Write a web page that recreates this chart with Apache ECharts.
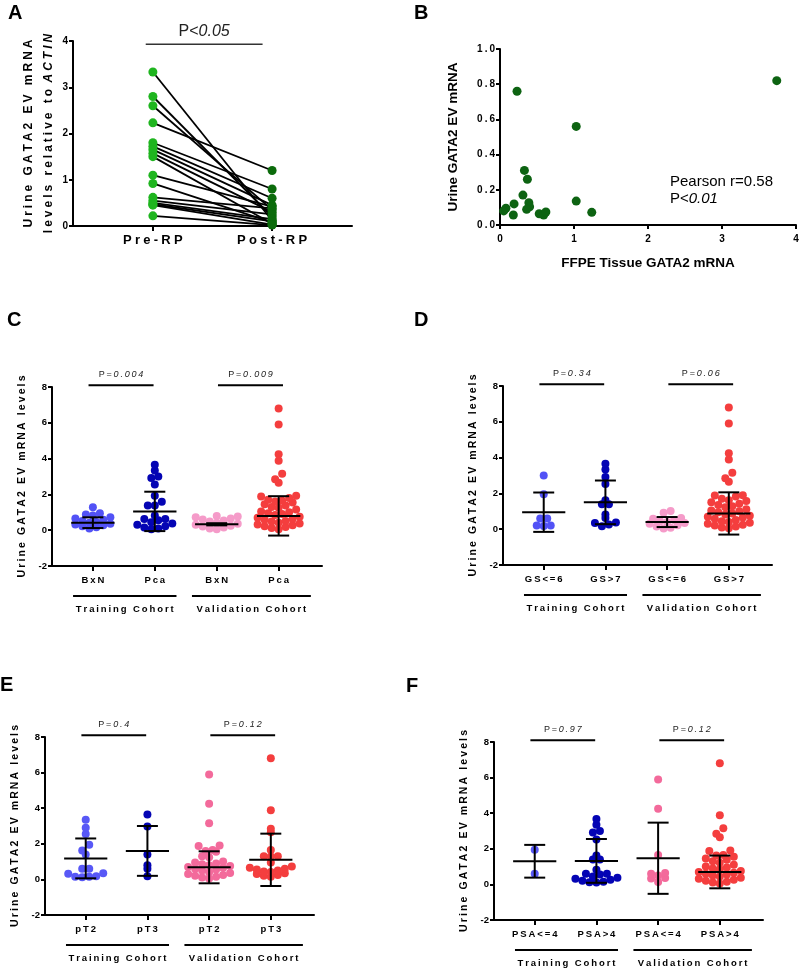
<!DOCTYPE html>
<html>
<head>
<meta charset="utf-8">
<script src="https://cdn.jsdelivr.net/npm/echarts@6/dist/echarts.min.js"></script>
<style>
  html, body { margin: 0; padding: 0; background: #fff; }
  #main { width: 800px; height: 969px; }
</style>
</head>
<body>
<div id="main"></div>
<script>
// ---- A: paired pre / post RP ----
var preRP  = [3.33, 2.80, 2.60, 2.23, 1.80, 1.72, 1.65, 1.57, 1.50, 1.10, 0.92, 0.62, 0.55, 0.50, 0.47, 0.45, 0.22];
var postRP = [0.12, 0.20, 0.35, 1.20, 0.80, 0.60, 0.45, 0.30, 0.05, 0.42, 0.08, 0.38, 0.25, 0.15, 0.10, 0.03, 0.02];
var aLabels = ['Pre-RP', 'Post-RP'];

// ---- B: tissue vs urine ----
var ffpeTissue = [3.74, 0.23, 1.03, 0.33, 0.37, 0.31, 0.19, 0.08, 0.05, 0.18, 0.39, 0.40, 0.36, 0.53, 0.59, 0.62, 1.03, 1.24];
var urineEV    = [0.82, 0.76, 0.56, 0.31, 0.26, 0.17, 0.12, 0.095, 0.08, 0.057, 0.127, 0.104, 0.089, 0.064, 0.057, 0.074, 0.136, 0.072];

// ---- C: BxN vs Pca ----
var cLabels = ['BxN', 'Pca', 'BxN', 'Pca'];
var cTrainBxN = [1.28, 0.95, 0.88, 0.82, 0.72, 0.65, 0.58, 0.52, 0.46, 0.42, 0.36, 0.32, 0.28, 0.22, 0.16, 0.1];
var cTrainPca = [3.65, 3.33, 3.0, 2.91, 2.55, 1.92, 1.59, 1.38, 1.38, 0.82, 0.63, 0.62, 0.55, 0.45, 0.38, 0.3, 0.22, 0.15, 0.1, 0.06];
var cValBxN = [0.8, 0.76, 0.72, 0.66, 0.6, 0.54, 0.48, 0.42, 0.36, 0.3, 0.25, 0.2, 0.15, 0.1, 0.05];
var cValPca = [6.8, 5.9, 4.25, 3.88, 3.15, 2.85, 2.65, 1.92, 1.88, 1.8, 1.7, 1.65, 1.6, 1.55, 1.45, 1.38, 1.3, 1.25, 1.15, 1.05, 1.0, 0.95, 0.9, 0.85, 0.75, 0.7, 0.62, 0.58, 0.52, 0.48, 0.42, 0.38, 0.32, 0.28, 0.22, 0.18, 0.12, 0.06];
var cMeans = [0.42, 1.05, 0.33, 0.8];
var cSDs = [0.3, 1.1, 0.06, 1.1];
var cP = ['0.004', '0.009'];

// ---- D: Gleason score ----
var dLabels = ['GS<=6', 'GS>7', 'GS<=6', 'GS>7'];
var dTrainLow = [3.0, 1.95, 0.6, 0.6, 0.2, 0.18, 0.2];
var dTrainHigh = [3.66, 3.34, 2.91, 2.52, 1.62, 1.4, 1.4, 0.82, 0.63, 0.37, 0.35, 0.26, 0.17];
var dValLow = [1.02, 0.92, 0.62, 0.58, 0.52, 0.45, 0.4, 0.35, 0.3, 0.22, 0.15, 0.08, 0.04];
var dValHigh = [6.8, 5.9, 4.25, 3.9, 3.15, 2.85, 2.65, 1.9, 1.88, 1.82, 1.7, 1.62, 1.58, 1.5, 1.42, 1.35, 1.28, 1.22, 1.12, 1.05, 1.0, 0.95, 0.88, 0.82, 0.75, 0.7, 0.65, 0.58, 0.52, 0.45, 0.4, 0.36, 0.3, 0.25, 0.2, 0.15, 0.1, 0.05];
var dMeans = [0.95, 1.5, 0.4, 0.88];
var dSDs = [1.1, 1.22, 0.28, 1.18];
var dP = ['0.34', '0.06'];

// ---- E: pathological stage ----
var eLabels = ['pT2', 'pT3', 'pT2', 'pT3'];
var eTrainT2 = [3.35, 2.9, 2.55, 1.95, 1.62, 1.4, 0.6, 0.6, 0.35, 0.32, 0.18, 0.15, 0.12, 0.15];
var eTrainT3 = [3.65, 2.97, 1.4, 0.8, 0.6, 0.18];
var eValT2 = [5.9, 4.25, 3.15, 1.9, 1.88, 1.65, 1.6, 1.55, 1.3, 1.25, 1.0, 0.95, 0.9, 0.85, 0.8, 0.75, 0.7, 0.65, 0.6, 0.55, 0.5, 0.4, 0.36, 0.3, 0.25, 0.2, 0.15, 0.1, 0.05];
var eValT3 = [6.8, 3.88, 2.85, 2.65, 1.65, 1.3, 1.3, 1.28, 0.95, 0.72, 0.65, 0.6, 0.55, 0.5, 0.45, 0.42, 0.35, 0.3, 0.25, 0.2, 0.15];
var eMeans = [1.18, 1.6, 0.68, 1.1];
var eSDs = [1.12, 1.4, 0.9, 1.47];
var eP = ['0.4', '0.12'];

// ---- F: PSA ----
var fLabels = ['PSA<=4', 'PSA>4', 'PSA<=4', 'PSA>4'];
var fTrainLow = [1.95, 0.6];
var fTrainHigh = [3.67, 3.35, 3.0, 2.92, 2.52, 1.62, 1.4, 1.4, 0.82, 0.6, 0.6, 0.55, 0.45, 0.38, 0.32, 0.26, 0.2, 0.15, 0.12, 0.1];
var fValLow = [5.9, 4.25, 1.65, 0.64, 0.6, 0.5, 0.36, 0.33, 0.13];
var fValHigh = [6.8, 3.88, 3.15, 2.85, 2.65, 1.9, 1.88, 1.65, 1.62, 1.55, 1.45, 1.38, 1.3, 1.22, 1.1, 1.0, 0.95, 0.9, 0.85, 0.75, 0.7, 0.65, 0.6, 0.55, 0.5, 0.45, 0.38, 0.32, 0.26, 0.2, 0.15, 0.1, 0.05];
var fMeans = [1.3, 1.32, 1.47, 0.7];
var fSDs = [0.92, 1.23, 2.0, 0.92];
var fP = ['0.97', '0.12'];

var cohortNames = ['Training Cohort', 'Validation Cohort'];

// ---- style ----
var FONT = "'Liberation Sans', Arial, Helvetica, sans-serif";
var TS = '\u2009';  // thin space, used as letter spacing
var WS = '\u2005';  // wider letter spacing for panel A
var colorsCD = ['#5252f6', '#0404b4', '#f59bc9', '#f43e3e'];
var colorsEF = ['#5858f6', '#0404b4', '#f36a9b', '#f43e3e'];

var grids = [
  { left: 73, top: 41, width: 279, height: 185 },   // A
  { left: 500, top: 49, width: 296, height: 176 },  // B
  { left: 52, top: 387, width: 270, height: 179 },  // C
  { left: 503, top: 386, width: 269, height: 179 }, // D
  { left: 45, top: 737, width: 269, height: 178 },  // E
  { left: 494, top: 742, width: 269, height: 178 }  // F
];
var XMIN = 0.34, XMAX = 4.7, YMIN = -2, YMAX = 8;

function spaced(s, sep) {
  return s.split('').join(sep || TS);
}

// Prism-like dot plot: values binned in rows, each row spread sideways,
// lowest value of a row in the middle
function swarm(vals, cx, kx) {
  var binH = 0.4, gap = 7;
  var bins = {};
  vals.forEach(function (v) {
    var b = Math.floor(v / binH);
    (bins[b] = bins[b] || []).push(v);
  });
  var out = [];
  Object.keys(bins).forEach(function (k) {
    var row = bins[k].slice().sort(function (a, b) { return a - b; });
    var n = row.length;
    row.forEach(function (v, j) {
      var slot;
      if (n % 2) slot = j === 0 ? 0 : (j % 2 ? -1 : 1) * Math.ceil(j / 2);
      else slot = (j % 2 ? 1 : -1) * (Math.floor(j / 2) + 0.5);
      out.push([cx + slot * gap / kx, v]);
    });
  });
  return out;
}

var axisLineStyle = { color: '#000', width: 2 };
var tickLabel = { color: '#000', fontWeight: 'bold', fontFamily: FONT };

function dotXAxis(gi, names) {
  return {
    type: 'value', gridIndex: gi, min: XMIN, max: XMAX,
    splitLine: { show: false },
    axisLine: { show: true, onZero: false, lineStyle: axisLineStyle },
    axisTick: { show: true, customValues: [1, 2, 3, 4], length: 5, lineStyle: axisLineStyle },
    axisLabel: Object.assign({
      customValues: [1, 2, 3, 4], fontSize: 9.5, margin: 9,
      formatter: function (v) { return spaced(names[Math.round(v) - 1]); }
    }, tickLabel)
  };
}

function dotYAxis(gi) {
  return {
    type: 'value', gridIndex: gi, min: YMIN, max: YMAX, interval: 2,
    splitLine: { show: false },
    axisLine: { show: true, lineStyle: axisLineStyle },
    axisTick: { show: true, length: 4, lineStyle: axisLineStyle },
    axisLabel: Object.assign({ fontSize: 9.5, margin: 5 }, tickLabel),
    name: spaced('Urine GATA2 EV mRNA levels'),
    nameLocation: 'middle', nameGap: 24,
    nameTextStyle: { fontSize: 10.5, fontWeight: 'bold', color: '#000', fontFamily: FONT }
  };
}

function meanSdSeries(gi, means, sds) {
  return {
    type: 'custom', xAxisIndex: gi, yAxisIndex: gi, clip: false, z: 5, silent: true,
    data: means.map(function (m, i) { return [i + 1, m, sds[i]]; }),
    renderItem: function (params, api) {
      var x = api.value(0), m = api.value(1), s = api.value(2);
      var c = api.coord([x, m]), t = api.coord([x, m + s]), b = api.coord([x, m - s]);
      var hw = api.size([0.35, 0])[0], cw = api.size([0.17, 0])[0];
      var st = { stroke: '#000', lineWidth: 2 };
      return { type: 'group', children: [
        { type: 'line', shape: { x1: c[0] - hw, y1: c[1], x2: c[0] + hw, y2: c[1] }, style: st },
        { type: 'line', shape: { x1: t[0], y1: t[1], x2: b[0], y2: b[1] }, style: st },
        { type: 'line', shape: { x1: t[0] - cw, y1: t[1], x2: t[0] + cw, y2: t[1] }, style: st },
        { type: 'line', shape: { x1: b[0] - cw, y1: b[1], x2: b[0] + cw, y2: b[1] }, style: st }
      ] };
    }
  };
}

// significance bar with a P value above it
function sigSeries(gi, segs, labels, o) {
  return {
    type: 'custom', xAxisIndex: gi, yAxisIndex: gi, clip: false, z: 6, silent: true,
    data: segs,
    renderItem: function (params, api) {
      var d = segs[params.dataIndex];
      var a = api.coord([d[0], d[2]]), b = api.coord([d[1], d[2]]);
      return { type: 'group', children: [
        { type: 'line', shape: { x1: a[0], y1: a[1], x2: b[0], y2: b[1] },
          style: { stroke: o.lineColor, lineWidth: o.lw } },
        { type: 'text', x: (a[0] + b[0]) / 2, y: a[1] - o.gap,
          style: {
            text: labels[params.dataIndex], fontSize: o.fs, fontFamily: FONT, fill: o.fill,
            align: 'center', verticalAlign: 'bottom',
            rich: { i: { fontStyle: 'italic', fontSize: o.fs, fontFamily: FONT, fill: o.fill } }
          } }
      ] };
    }
  };
}

// cohort brackets under the category labels
function cohortSeries(gi, segs) {
  return {
    type: 'custom', xAxisIndex: gi, yAxisIndex: gi, clip: false, z: 6, silent: true,
    data: segs,
    renderItem: function (params, api) {
      var d = segs[params.dataIndex];
      var a = api.coord([d[0], YMIN]), b = api.coord([d[1], YMIN]);
      return { type: 'group', children: [
        { type: 'line', shape: { x1: a[0], y1: a[1] + 30, x2: b[0], y2: b[1] + 30 },
          style: { stroke: '#000', lineWidth: 2 } },
        { type: 'text', x: (a[0] + b[0]) / 2, y: a[1] + 43,
          style: { text: spaced(cohortNames[params.dataIndex]), fontSize: 9.5, fontWeight: 'bold',
            fontFamily: FONT, fill: '#000', align: 'center', verticalAlign: 'middle' } }
      ] };
    }
  };
}

var dotPanels = [
  { gi: 2, labels: cLabels, groups: [cTrainBxN, cTrainPca, cValBxN, cValPca], means: cMeans, sds: cSDs, p: cP, colors: colorsCD },
  { gi: 3, labels: dLabels, groups: [dTrainLow, dTrainHigh, dValLow, dValHigh], means: dMeans, sds: dSDs, p: dP, colors: colorsCD },
  { gi: 4, labels: eLabels, groups: [eTrainT2, eTrainT3, eValT2, eValT3], means: eMeans, sds: eSDs, p: eP, colors: colorsEF },
  { gi: 5, labels: fLabels, groups: [fTrainLow, fTrainHigh, fValLow, fValHigh], means: fMeans, sds: fSDs, p: fP, colors: colorsEF }
];

var xAxes = [
  {
    type: 'value', gridIndex: 0, min: 0.33, max: 2.67,
    splitLine: { show: false },
    axisLine: { show: true, onZero: false, lineStyle: axisLineStyle },
    axisTick: { show: true, customValues: [1, 2], length: 5, lineStyle: axisLineStyle },
    axisLabel: Object.assign({
      customValues: [1, 2], fontSize: 13, margin: 8,
      formatter: function (v) { return spaced(aLabels[Math.round(v) - 1], WS); }
    }, tickLabel)
  },
  {
    type: 'value', gridIndex: 1, min: 0, max: 4, interval: 1,
    splitLine: { show: false },
    axisLine: { show: true, onZero: false, lineStyle: axisLineStyle },
    axisTick: { show: true, length: 4, lineStyle: axisLineStyle },
    axisLabel: Object.assign({ fontSize: 10, margin: 9 }, tickLabel),
    name: 'FFPE Tissue GATA2 mRNA', nameLocation: 'middle', nameGap: 31,
    nameTextStyle: { fontSize: 13.5, fontWeight: 'bold', color: '#000', fontFamily: FONT }
  }
];
var yAxes = [
  {
    type: 'value', gridIndex: 0, min: 0, max: 4, interval: 1,
    splitLine: { show: false },
    axisLine: { show: true, lineStyle: axisLineStyle },
    axisTick: { show: true, length: 4, lineStyle: axisLineStyle },
    axisLabel: Object.assign({ fontSize: 10, margin: 5 }, tickLabel),
    name: spaced('Urine GATA2 EV mRNA', WS) + '\n' + spaced('levels relative to ', WS) + '{i|' + spaced('ACTIN', WS) + '}',
    nameLocation: 'middle', nameGap: 13,
    nameTextStyle: {
      fontSize: 12, fontWeight: 'bold', color: '#000', fontFamily: FONT, lineHeight: 20,
      rich: { i: { fontSize: 12, fontWeight: 'bold', fontStyle: 'italic', color: '#000', fontFamily: FONT, lineHeight: 20 } }
    }
  },
  {
    type: 'value', gridIndex: 1, min: 0, max: 1, interval: 0.2,
    splitLine: { show: false },
    axisLine: { show: true, lineStyle: axisLineStyle },
    axisTick: { show: true, length: 4, lineStyle: axisLineStyle },
    axisLabel: Object.assign({ fontSize: 10, margin: 5,
      formatter: function (v) { return spaced(v.toFixed(1)); } }, tickLabel),
    name: 'Urine GATA2 EV mRNA', nameLocation: 'middle', nameGap: 40,
    nameTextStyle: { fontSize: 13.5, fontWeight: 'bold', color: '#000', fontFamily: FONT }
  }
];

var series = [
  {
    type: 'lines', coordinateSystem: 'cartesian2d', xAxisIndex: 0, yAxisIndex: 0, z: 2, silent: true,
    data: preRP.map(function (v, i) { return { coords: [[1, v], [2, postRP[i]]] }; }),
    lineStyle: { color: '#000', width: 1.8, opacity: 1 }
  },
  {
    type: 'scatter', xAxisIndex: 0, yAxisIndex: 0, z: 3, symbolSize: 9,
    itemStyle: { color: '#1fb51f', opacity: 1 },
    data: preRP.map(function (v) { return [1, v]; })
  },
  {
    type: 'scatter', xAxisIndex: 0, yAxisIndex: 0, z: 3, symbolSize: 9,
    itemStyle: { color: '#0b6b0b', opacity: 1 },
    data: postRP.map(function (v) { return [2, v]; })
  },
  sigSeries(0, [[0.94, 1.92, 3.93]], ['P<{i|0.05}'], { fs: 16, fill: '#222', lineColor: '#333', lw: 1.5, gap: 5 }),
  {
    type: 'scatter', xAxisIndex: 1, yAxisIndex: 1, symbolSize: 9,
    itemStyle: { color: '#0d6312', opacity: 1 },
    data: ffpeTissue.map(function (v, i) { return [v, urineEV[i]]; })
  }
];

dotPanels.forEach(function (p) {
  var g = grids[p.gi];
  var kx = g.width / (XMAX - XMIN);
  xAxes.push(dotXAxis(p.gi, p.labels));
  yAxes.push(dotYAxis(p.gi));
  p.groups.forEach(function (vals, i) {
    series.push({
      type: 'scatter', xAxisIndex: p.gi, yAxisIndex: p.gi, symbolSize: 8, z: 3,
      itemStyle: { color: p.colors[i], opacity: 1 },
      data: swarm(vals, i + 1, kx)
    });
  });
  series.push(meanSdSeries(p.gi, p.means, p.sds));
  var pl = p.p.map(function (v) { return spaced('P=') + TS + '{i|' + spaced(v) + '}'; });
  series.push(sigSeries(p.gi, [[0.93, 1.98, 8.1], [3.02, 4.07, 8.1]], pl,
    { fs: 9, fill: '#222', lineColor: '#000', lw: 2, gap: 6 }));
  series.push(cohortSeries(p.gi, [[0.68, 2.35], [2.6, 4.52]]));
});

function letter(t, left, top) {
  return { type: 'text', left: left, top: top,
    style: { text: t, fontSize: 20, fontWeight: 'bold', fontFamily: FONT, fill: '#000' } };
}

var option = {
  animation: false,
  textStyle: { fontFamily: FONT },
  grid: grids.map(function (g) { return Object.assign({ outerBoundsMode: 'none' }, g); }),
  xAxis: xAxes,
  yAxis: yAxes,
  series: series,
  graphic: [
    letter('A', 8, 3), letter('B', 414, 3), letter('C', 7, 310),
    letter('D', 414, 310), letter('E', 0, 675), letter('F', 406, 676),
    { type: 'text', left: 670, top: 173,
      style: { text: 'Pearson r=0.58\nP<{i|0.01}', fontSize: 15, fontFamily: FONT, fill: '#000', lineHeight: 17,
        rich: { i: { fontStyle: 'italic', fontSize: 15, fontFamily: FONT, fill: '#000', lineHeight: 17 } } } }
  ]
};

var chart = echarts.init(document.getElementById('main'));
chart.setOption(option);
window.onresize = chart.resize;
</script>
</body>
</html>
